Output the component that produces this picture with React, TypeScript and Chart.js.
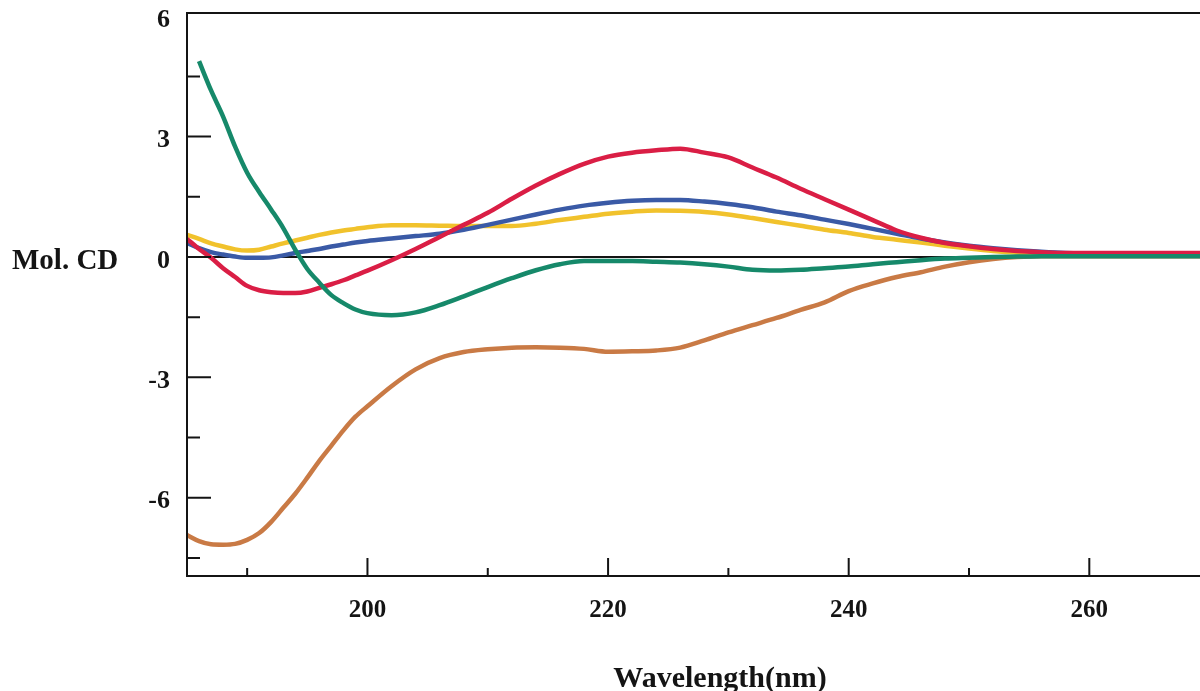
import React, { useEffect, useRef } from "react";
import { Chart, registerables } from "chart.js";

Chart.register(...registerables);

const wavelength = [185, 186, 187, 188, 189, 190, 191, 192, 193, 194, 195, 196, 197, 198, 199, 200, 202, 204, 206, 208, 210, 212, 214, 216, 218, 220, 222, 224, 226, 228, 230, 232, 234, 236, 238, 240, 242, 244, 246, 248, 250, 252, 254, 256, 258, 260, 265, 270];

const greenSeries = [null, 4.88, 4.15, 3.5, 2.75, 2.1, 1.62, 1.18, 0.72, 0.18, -0.3, -0.64, -0.95, -1.15, -1.31, -1.4, -1.45, -1.38, -1.2, -0.98, -0.75, -0.53, -0.33, -0.18, -0.1, -0.1, -0.1, -0.12, -0.14, -0.18, -0.24, -0.32, -0.34, -0.32, -0.28, -0.24, -0.18, -0.13, -0.08, -0.04, -0.02, 0, 0.01, 0.02, 0.02, 0.02, 0.02, 0.02];
const redSeries = [0.45, 0.2, -0.02, -0.28, -0.5, -0.72, -0.83, -0.88, -0.9, -0.9, -0.86, -0.77, -0.68, -0.58, -0.46, -0.34, -0.08, 0.2, 0.5, 0.8, 1.1, 1.45, 1.78, 2.07, 2.32, 2.5, 2.6, 2.66, 2.7, 2.6, 2.48, 2.23, 1.98, 1.7, 1.44, 1.18, 0.92, 0.66, 0.48, 0.35, 0.27, 0.2, 0.15, 0.12, 0.1, 0.1, 0.1, 0.1];
const blueSeries = [0.35, 0.22, 0.12, 0.06, 0.01, -0.02, -0.02, -0.01, 0.04, 0.1, 0.15, 0.2, 0.26, 0.31, 0.36, 0.4, 0.46, 0.52, 0.58, 0.68, 0.8, 0.93, 1.06, 1.18, 1.28, 1.35, 1.4, 1.42, 1.42, 1.38, 1.32, 1.24, 1.13, 1.04, 0.93, 0.82, 0.7, 0.58, 0.46, 0.36, 0.28, 0.22, 0.17, 0.13, 0.1, 0.09, 0.08, 0.08];
const yellowSeries = [0.55, 0.45, 0.34, 0.26, 0.19, 0.16, 0.18, 0.26, 0.34, 0.41, 0.48, 0.55, 0.61, 0.66, 0.7, 0.74, 0.79, 0.79, 0.78, 0.77, 0.77, 0.77, 0.83, 0.92, 1.0, 1.08, 1.13, 1.16, 1.15, 1.12, 1.06, 0.97, 0.87, 0.78, 0.68, 0.6, 0.5, 0.43, 0.36, 0.28, 0.21, 0.15, 0.11, 0.09, 0.07, 0.06, 0.06, 0.06];
const brownSeries = [-6.93, -7.08, -7.16, -7.17, -7.15, -7.05, -6.88, -6.6, -6.25, -5.9, -5.5, -5.08, -4.7, -4.32, -3.98, -3.72, -3.22, -2.8, -2.52, -2.37, -2.3, -2.26, -2.25, -2.26, -2.29, -2.36, -2.35, -2.33, -2.26, -2.08, -1.88, -1.7, -1.52, -1.32, -1.13, -0.85, -0.66, -0.5, -0.38, -0.24, -0.13, -0.05, 0, 0.02, 0.02, 0.02, 0.02, 0.02];

const xTickValues = [190, 200, 210, 220, 230, 240, 250, 260];
const yTickValues = [-7.5, -6, -4.5, -3, -1.5, 0, 1.5, 3, 4.5, 6];
const yTickMarks = [-7.5, -6, -4.5, -3, -1.5, 0, 1.5, 3, 4.5];

const xTitle = "Wavelength(nm)";
const yTitle = "Mol. CD";

const FONT = "'Liberation Serif', 'Times New Roman', serif";
const INK = "#141414";

const axesPlugin = {
  id: "cdAxes",
  beforeDatasetsDraw(chart: any) {
    const { ctx, chartArea, scales } = chart;
    const y0 = scales.y.getPixelForValue(0);
    ctx.save();
    ctx.strokeStyle = INK;
    ctx.lineWidth = 2;
    ctx.beginPath();
    ctx.moveTo(chartArea.left, y0);
    ctx.lineTo(chartArea.right, y0);
    ctx.stroke();
    ctx.restore();
  },
  afterDatasetsDraw(chart: any) {
    const { ctx, chartArea, scales } = chart;
    const { left, right, top, bottom } = chartArea;
    ctx.save();
    ctx.strokeStyle = INK;
    ctx.lineWidth = 2;
    ctx.beginPath();
    ctx.moveTo(left, top);
    ctx.lineTo(right, top);
    ctx.moveTo(left, top - 1);
    ctx.lineTo(left, bottom + 1);
    ctx.moveTo(left - 1, bottom);
    ctx.lineTo(right, bottom);
    for (const v of yTickMarks) {
      const py = scales.y.getPixelForValue(v);
      const major = Math.abs(v % 3) < 1e-6;
      ctx.moveTo(left, py);
      ctx.lineTo(left + (major ? 24 : 13), py);
    }
    for (const v of xTickValues) {
      const px = scales.x.getPixelForValue(v);
      const major = v % 20 === 0;
      ctx.moveTo(px, bottom);
      ctx.lineTo(px, bottom - (major ? 18 : 8));
    }
    ctx.stroke();
    ctx.restore();
  },
  afterDraw(chart: any) {
    const { ctx } = chart;
    ctx.save();
    ctx.fillStyle = INK;
    ctx.textBaseline = "alphabetic";
    ctx.font = `bold 29px ${FONT}`;
    ctx.textAlign = "left";
    ctx.fillText(yTitle, 12, 269);
    ctx.font = `bold 30px ${FONT}`;
    ctx.textAlign = "center";
    ctx.fillText(xTitle, 720, 687);
    ctx.restore();
  },
};

export default function App() {
  const canvasRef = useRef<HTMLCanvasElement | null>(null);

  useEffect(() => {
    const canvas = canvasRef.current;
    if (!canvas) return;
    const mk = (data: (number | null)[], color: string) => ({
      data: wavelength.map((x, i) => ({ x, y: data[i] })),
      borderColor: color,
      backgroundColor: color,
      borderWidth: 4.5,
      pointRadius: 0,
      cubicInterpolationMode: "monotone" as const,
      spanGaps: false,
      fill: false,
    });
    const chart = new Chart(canvas, {
      type: "line",
      data: {
        datasets: [
          mk(greenSeries, "#16896a"),
          mk(redSeries, "#da1e45"),
          mk(blueSeries, "#3a5aa6"),
          mk(yellowSeries, "#f1c22c"),
          mk(brownSeries, "#c97a45"),
        ],
      },
      options: {
        responsive: false,
        animation: false,
        devicePixelRatio: 1,
        layout: { padding: { top: 13, left: 0, right: 0, bottom: 0 } },
        plugins: {
          legend: { display: false },
          tooltip: { enabled: false },
          title: { display: false },
        },
        scales: {
          x: {
            type: "linear",
            min: 185,
            max: 269.2,
            grid: { display: false, drawTicks: false },
            border: { display: false },
            afterBuildTicks: (scale: any) => {
              scale.ticks = xTickValues.map((v) => ({ value: v }));
            },
            afterFit: (scale: any) => {
              scale.height = 115;
              scale.paddingLeft = 0;
              scale.paddingRight = 0;
            },
            ticks: {
              autoSkip: false,
              maxRotation: 0,
              padding: 20,
              color: INK,
              font: { family: FONT, size: 25, weight: "bold" },
              callback: (v: any) => (Number(v) % 20 === 0 ? String(v) : ""),
            },
          },
          y: {
            type: "linear",
            min: -7.95,
            max: 6.08,
            grid: { display: false, drawTicks: false },
            border: { display: false },
            afterBuildTicks: (scale: any) => {
              scale.ticks = yTickValues.map((v) => ({ value: v }));
            },
            afterFit: (scale: any) => {
              scale.width = 187;
              scale.paddingTop = 0;
              scale.paddingBottom = 0;
            },
            ticks: {
              autoSkip: false,
              padding: 17,
              labelOffset: 4,
              color: INK,
              font: { family: FONT, size: 26, weight: "bold" },
              callback: (v: any) => (Math.abs(Number(v) % 3) < 1e-6 ? String(v) : ""),
            },
          },
        },
      },
      plugins: [axesPlugin],
    });
    return () => chart.destroy();
  }, []);

  return (
    <div style={{ position: "fixed", left: 0, top: 0, width: 1200, height: 691, background: "#fff" }}>
      <canvas ref={canvasRef} width={1200} height={691} style={{ display: "block" }} />
    </div>
  );
}
